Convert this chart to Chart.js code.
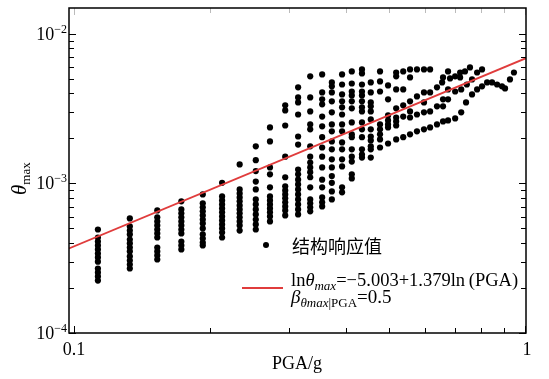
<!DOCTYPE html>
<html>
<head>
<meta charset="utf-8">
<script src="https://cdn.jsdelivr.net/npm/chart.js@4.4.1/dist/chart.umd.min.js"></script>
<style>
  html, body { margin: 0; padding: 0; background: #fff; }
  #wrap { width: 549px; height: 379px; }
</style>
</head>
<body>
<div id="wrap"><canvas id="chart" width="549" height="379"></canvas></div>
<script>
// PGA of each vertical column of response points (left part of the cloud)
const columnPGA = [0.113, 0.133, 0.153, 0.173, 0.193, 0.213, 0.233, 0.253, 0.272, 0.294,
                   0.314, 0.334, 0.355, 0.373, 0.393, 0.413, 0.435, 0.455, 0.477, 0.497,
                   0.518, 0.537, 0.556, 0.576, 0.597];

// theta_max values read for each column
const columnTheta = [
  [4.92e-4, 4.35e-4, 4.09e-4, 3.85e-4, 3.62e-4, 3.40e-4, 3.20e-4, 3.00e-4, 2.70e-4, 2.54e-4, 2.39e-4, 2.24e-4],
  [5.84e-4, 5.16e-4, 4.84e-4, 4.56e-4, 4.22e-4, 3.97e-4, 3.73e-4, 3.51e-4, 3.25e-4, 3.05e-4, 2.87e-4, 2.70e-4],
  [6.60e-4, 5.94e-4, 5.57e-4, 5.24e-4, 4.92e-4, 4.63e-4, 4.35e-4, 3.73e-4, 3.51e-4, 3.30e-4, 3.10e-4],
  [7.59e-4, 6.70e-4, 6.31e-4, 5.94e-4, 5.57e-4, 5.24e-4, 4.92e-4, 4.63e-4, 4.09e-4, 3.85e-4, 3.62e-4],
  [8.44e-4, 7.36e-4, 6.92e-4, 6.51e-4, 6.11e-4, 5.74e-4, 5.40e-4, 5.00e-4, 4.56e-4, 4.28e-4, 4.03e-4, 3.85e-4],
  [1.01e-3, 8.19e-4, 7.70e-4, 7.24e-4, 6.81e-4, 6.41e-4, 6.02e-4, 5.66e-4, 5.32e-4, 5.00e-4, 4.70e-4, 4.35e-4],
  [1.34e-3, 9.12e-4, 8.57e-4, 8.07e-4, 7.59e-4, 7.13e-4, 6.70e-4, 6.31e-4, 5.94e-4, 5.57e-4, 5.24e-4, 4.84e-4],
  [1.77e-3, 1.43e-3, 1.21e-3, 1.03e-3, 9.12e-4, 7.82e-4, 7.24e-4, 6.70e-4, 6.21e-4, 5.74e-4, 5.32e-4, 4.92e-4],
  [2.37e-3, 1.91e-3, 1.28e-3, 1.15e-3, 9.42e-4, 8.19e-4, 7.70e-4, 7.24e-4, 6.81e-4, 6.41e-4, 6.02e-4, 5.57e-4],
  [3.33e-3, 3.08e-3, 2.44e-3, 1.51e-3, 1.10e-3, 9.56e-4, 8.98e-4, 8.44e-4, 7.95e-4, 7.48e-4, 7.02e-4, 6.60e-4, 6.11e-4],
  [4.39e-3, 3.76e-3, 3.48e-3, 2.89e-3, 2.06e-3, 1.82e-3, 1.24e-3, 1.15e-3, 1.06e-3, 9.85e-4, 9.12e-4, 8.44e-4, 7.82e-4, 7.24e-4, 6.70e-4, 6.21e-4],
  [5.20e-3, 3.76e-3, 3.03e-3, 2.48e-3, 2.30e-3, 1.77e-3, 1.51e-3, 1.38e-3, 1.28e-3, 1.19e-3, 1.10e-3, 9.42e-4, 7.82e-4, 7.36e-4, 6.92e-4, 6.51e-4],
  [5.36e-3, 4.06e-3, 3.65e-3, 3.38e-3, 2.80e-3, 2.41e-3, 2.04e-3, 1.74e-3, 1.51e-3, 1.28e-3, 1.06e-3, 9.42e-4, 8.07e-4, 7.48e-4, 7.02e-4],
  [4.74e-3, 4.46e-3, 4.06e-3, 3.54e-3, 2.99e-3, 2.48e-3, 2.23e-3, 1.91e-3, 1.69e-3, 1.45e-3, 1.28e-3, 1.12e-3, 1.01e-3, 8.85e-4, 7.82e-4],
  [5.36e-3, 4.59e-3, 3.94e-3, 3.54e-3, 3.23e-3, 2.89e-3, 2.48e-3, 2.23e-3, 1.88e-3, 1.69e-3, 1.45e-3, 1.30e-3, 9.42e-4, 8.72e-4],
  [5.61e-3, 4.66e-3, 4.12e-3, 3.88e-3, 3.54e-3, 3.18e-3, 2.56e-3, 2.13e-3, 2.04e-3, 1.69e-3, 1.51e-3, 1.40e-3, 1.15e-3, 1.08e-3],
  [5.79e-3, 5.44e-3, 4.59e-3, 4.12e-3, 3.88e-3, 3.54e-3, 3.23e-3, 3.03e-3, 2.56e-3, 2.30e-3, 2.04e-3, 1.69e-3, 1.56e-3, 1.49e-3],
  [4.74e-3, 4.06e-3, 3.48e-3, 3.28e-3, 3.03e-3, 2.68e-3, 2.30e-3, 2.06e-3, 1.94e-3, 1.77e-3, 1.69e-3, 1.49e-3],
  [5.61e-3, 4.81e-3, 4.12e-3, 2.48e-3, 2.30e-3, 2.13e-3, 1.97e-3, 1.74e-3],
  [4.52e-3, 3.65e-3, 2.85e-3, 2.64e-3, 2.48e-3, 2.37e-3, 1.85e-3],
  [5.52e-3, 5.20e-3, 4.25e-3, 3.18e-3, 2.76e-3, 2.60e-3, 2.44e-3, 1.97e-3],
  [5.61e-3, 4.25e-3, 3.33e-3, 2.80e-3, 2.04e-3],
  [5.79e-3, 5.12e-3, 3.54e-3, 3.03e-3, 2.76e-3, 2.13e-3],
  [5.79e-3, 3.82e-3, 2.89e-3, 2.23e-3],
  [5.79e-3, 4.06e-3, 3.48e-3, 2.99e-3, 2.30e-3]
];

// scattered points in the high-PGA end, [PGA, theta_max]
const tailPoints = [
  [0.616, 5.79e-3], [0.616, 4.06e-3], [0.616, 3.03e-3], [0.616, 2.37e-3],
  [0.638, 4.39e-3], [0.638, 3.28e-3], [0.638, 2.48e-3],
  [0.655, 4.74e-3], [0.658, 5.12e-3], [0.658, 3.65e-3], [0.658, 3.28e-3], [0.658, 2.60e-3],
  [0.675, 5.61e-3], [0.675, 4.25e-3], [0.675, 3.65e-3], [0.675, 2.64e-3], [0.682, 5.04e-3],
  [0.700, 5.20e-3], [0.700, 4.12e-3], [0.700, 2.72e-3],
  [0.718, 5.52e-3], [0.718, 5.12e-3], [0.722, 4.25e-3], [0.722, 2.99e-3],
  [0.736, 5.61e-3], [0.740, 3.48e-3], [0.743, 4.59e-3],
  [0.755, 5.97e-3], [0.763, 4.96e-3], [0.763, 3.94e-3],
  [0.783, 5.52e-3], [0.783, 4.25e-3],
  [0.803, 5.79e-3], [0.803, 4.46e-3],
  [0.824, 4.74e-3], [0.845, 4.74e-3], [0.867, 4.59e-3], [0.889, 4.46e-3],
  [0.903, 4.32e-3], [0.926, 4.96e-3], [0.945, 5.52e-3]
];

// fitted median line (read at the two plot edges)
const fitPGA = [0.0975, 1.005];
const fitTheta = [3.68e-4, 6.88e-3];

// tick labels
const xTickValues = [0.1, 1];
const xTickLabels = ["0.1", "1"];
const yTickValues = [1e-4, 1e-3, 1e-2];
const yTickExponents = ["\u22124", "\u22123", "\u22122"];

const serif = '"Liberation Serif", "Times New Roman", serif';

const scatterData = [];
columnPGA.forEach(function (pga, i) {
  columnTheta[i].forEach(function (t) { scatterData.push({ x: pga, y: t }); });
});
tailPoints.forEach(function (p) { scatterData.push({ x: p[0], y: p[1] }); });

const lineData = fitPGA.map(function (p, i) { return { x: p, y: fitTheta[i] }; });

function drawRuns(ctx, x, y, runs) {
  runs.forEach(function (r) {
    ctx.font = r.font;
    ctx.fillText(r.text, x, y + (r.dy || 0));
    x += ctx.measureText(r.text).width;
  });
  return x;
}

// frame, inward ticks, labels and legend
const decorPlugin = {
  id: "decor",
  afterDraw: function (chart) {
    const ctx = chart.ctx;
    const a = chart.chartArea;
    const xs = chart.scales.x;
    const ys = chart.scales.y;
    ctx.save();
    ctx.lineWidth = 1;

    // x ticks (bottom dark, top faint)
    for (let d = -1; d <= 0; d++) {
      for (let m = 1; m <= 9; m++) {
        const v = m * Math.pow(10, d);
        if (v < xs.min || v > xs.max) continue;
        const px = Math.round(xs.getPixelForValue(v)) + 0.5;
        const len = m === 1 ? 7 : 5;
        ctx.strokeStyle = "#000";
        ctx.beginPath(); ctx.moveTo(px, a.bottom); ctx.lineTo(px, a.bottom - len); ctx.stroke();
        ctx.strokeStyle = "#bbb";
        ctx.beginPath(); ctx.moveTo(px, a.top); ctx.lineTo(px, a.top + len); ctx.stroke();
      }
    }
    // y ticks, left and right
    ctx.strokeStyle = "#000";
    for (let d = -4; d <= -2; d++) {
      for (let m = 1; m <= 9; m++) {
        const v = m * Math.pow(10, d);
        if (v < ys.min || v > ys.max) continue;
        const py = Math.round(ys.getPixelForValue(v)) + 0.5;
        const len = m === 1 ? 7 : 5;
        ctx.beginPath(); ctx.moveTo(a.left, py); ctx.lineTo(a.left + len, py); ctx.stroke();
        ctx.beginPath(); ctx.moveTo(a.right, py); ctx.lineTo(a.right - len, py); ctx.stroke();
      }
    }
    // frame
    ctx.lineWidth = 1.5;
    ctx.strokeRect(a.left, a.top, a.right - a.left, a.bottom - a.top);

    ctx.fillStyle = "#000";
    ctx.textBaseline = "alphabetic";

    // x tick labels
    ctx.textAlign = "center";
    ctx.font = "18px " + serif;
    xTickValues.forEach(function (v, i) {
      ctx.fillText(xTickLabels[i], xs.getPixelForValue(v) + (v === 1 ? 2 : 0), 355);
    });

    // y tick labels: 10 with superscript exponent
    ctx.textAlign = "left";
    yTickValues.forEach(function (v, i) {
      const py = ys.getPixelForValue(v);
      ctx.font = "12px " + serif;
      const ew = ctx.measureText(yTickExponents[i]).width;
      ctx.font = "18px " + serif;
      const bw = ctx.measureText("10").width;
      const x0 = 67 - ew - bw;
      ctx.fillText("10", x0, py + 6);
      ctx.font = "12px " + serif;
      ctx.fillText(yTickExponents[i], x0 + bw, py - 1);
    });

    // x axis title
    ctx.textAlign = "center";
    ctx.font = "18px " + serif;
    ctx.fillText("PGA/g", 297, 369);

    // y axis title
    ctx.save();
    ctx.translate(26, 195);
    ctx.rotate(-Math.PI / 2);
    ctx.textAlign = "left";
    drawRuns(ctx, 0, 0, [
      { text: "\u03b8", font: "italic 21px " + serif },
      { text: "max", font: "13px " + serif, dy: 4 }
    ]);
    ctx.restore();

    // legend
    ctx.textAlign = "left";
    ctx.beginPath();
    ctx.arc(266, 245, 3, 0, Math.PI * 2);
    ctx.fill();
    ctx.textBaseline = "middle";
    ctx.font = '18px "Noto Sans CJK SC", sans-serif';
    ctx.fillText("结构响应值", 292, 246);

    ctx.strokeStyle = "#e03c3c";
    ctx.lineWidth = 2;
    ctx.beginPath(); ctx.moveTo(242, 288); ctx.lineTo(283, 288); ctx.stroke();

    ctx.textBaseline = "alphabetic";
    drawRuns(ctx, 291, 286, [
      { text: "ln", font: "18.5px " + serif },
      { text: "\u03b8", font: "italic 18.5px " + serif },
      { text: "max", font: "italic 13px " + serif, dy: 4 },
      { text: "=\u22125.003+1.379ln\u2009(PGA)", font: "18.5px " + serif }
    ]);
    drawRuns(ctx, 291, 303, [
      { text: "\u03b2", font: "italic 19px " + serif },
      { text: "\u03b8max", font: "italic 13px " + serif, dy: 4 },
      { text: "|PGA", font: "13px " + serif, dy: 4 },
      { text: "=0.5", font: "19px " + serif }
    ]);
    ctx.restore();
  }
};

new Chart(document.getElementById("chart").getContext("2d"), {
  type: "scatter",
  data: {
    datasets: [
      {
        label: "fit",
        data: lineData,
        showLine: true,
        borderColor: "#e03c3c",
        borderWidth: 1.8,
        pointRadius: 0,
        fill: false
      },
      {
        label: "结构响应值",
        data: scatterData,
        backgroundColor: "#000",
        borderWidth: 0,
        pointRadius: 3.1,
        pointHoverRadius: 3.1
      }
    ]
  },
  options: {
    responsive: false,
    animation: false,
    layout: { padding: { left: 69, right: 23, top: 8, bottom: 46 } },
    scales: {
      x: { type: "logarithmic", min: 0.0975, max: 1.005, display: false },
      y: { type: "logarithmic", min: 1e-4, max: 0.0149, display: false }
    },
    plugins: {
      legend: { display: false },
      tooltip: { enabled: false }
    }
  },
  plugins: [decorPlugin]
});
</script>
</body>
</html>
